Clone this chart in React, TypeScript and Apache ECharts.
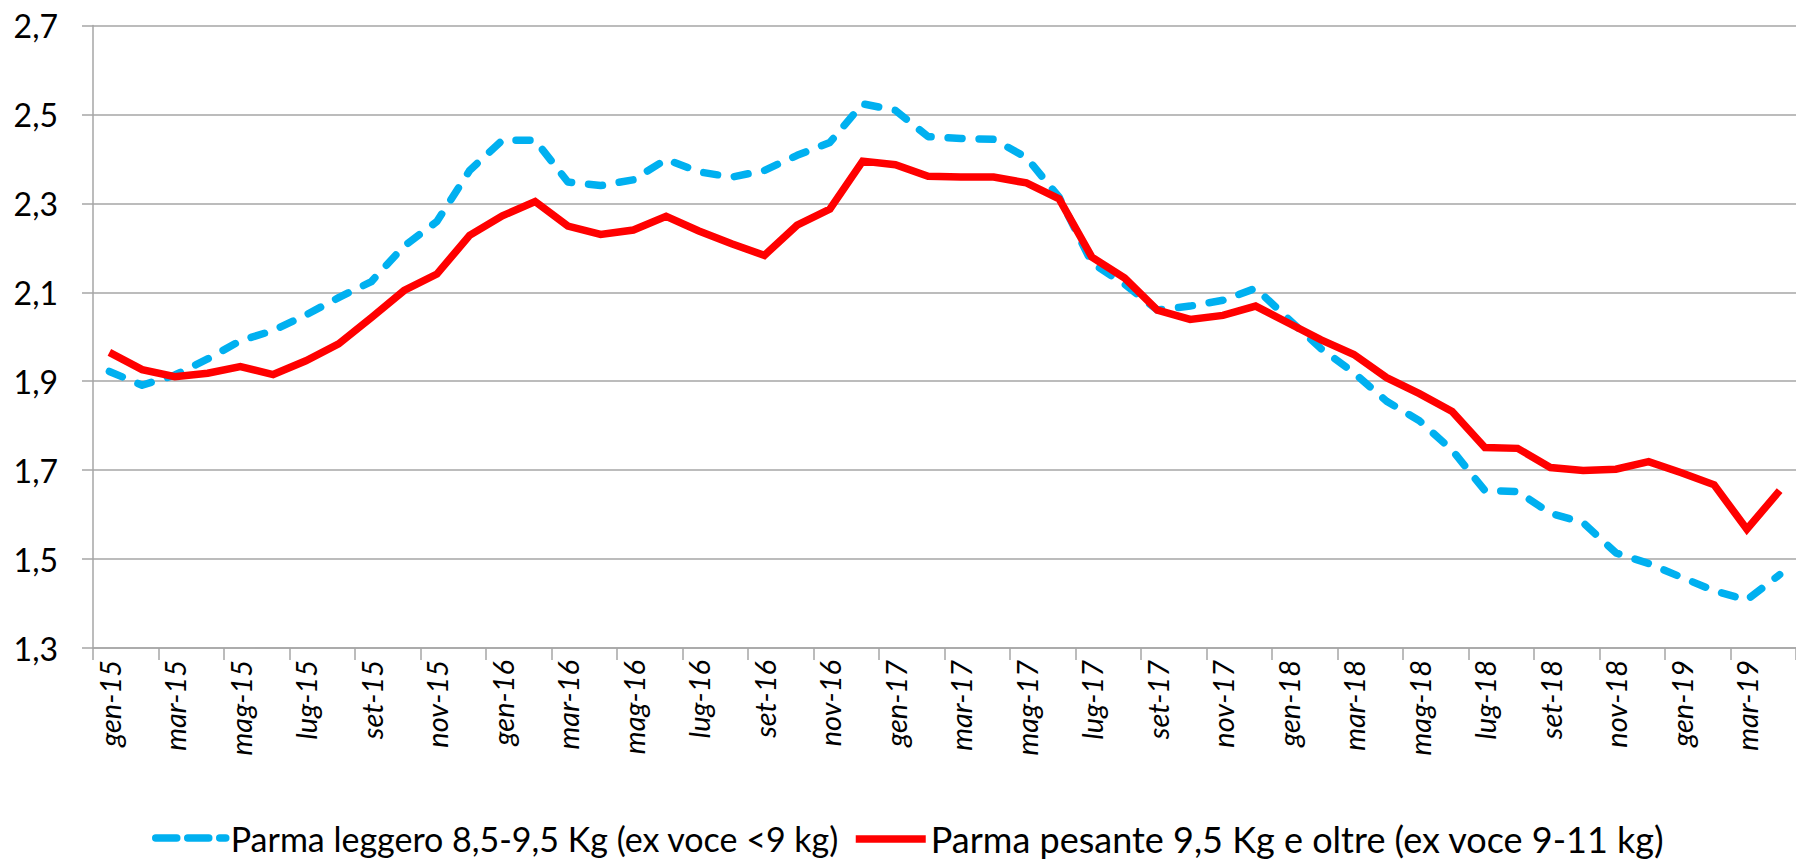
import React, { useEffect, useRef } from "react";
import * as echarts from "echarts";

const months = [
  "gen-15","feb-15","mar-15","apr-15","mag-15","giu-15","lug-15","ago-15","set-15","ott-15","nov-15","dic-15",
  "gen-16","feb-16","mar-16","apr-16","mag-16","giu-16","lug-16","ago-16","set-16","ott-16","nov-16","dic-16",
  "gen-17","feb-17","mar-17","apr-17","mag-17","giu-17","lug-17","ago-17","set-17","ott-17","nov-17","dic-17",
  "gen-18","feb-18","mar-18","apr-18","mag-18","giu-18","lug-18","ago-18","set-18","ott-18","nov-18","dic-18",
  "gen-19","feb-19","mar-19","apr-19",
];

const leggero = [
  1.922, 1.891, 1.914, 1.95, 1.991, 2.014, 2.049, 2.088, 2.124, 2.204, 2.259, 2.374,
  2.442, 2.442, 2.348, 2.34, 2.353, 2.399, 2.371, 2.359, 2.374, 2.408, 2.437, 2.524,
  2.509, 2.45, 2.446, 2.444, 2.403, 2.314, 2.166, 2.118, 2.06, 2.069, 2.082, 2.109,
  2.04, 1.973, 1.919, 1.855, 1.811, 1.745, 1.654, 1.652, 1.603, 1.582, 1.514, 1.49,
  1.459, 1.429, 1.408, 1.465,
];

const pesante = [
  1.965, 1.926, 1.91, 1.918, 1.933, 1.915, 1.946, 1.984, 2.043, 2.104, 2.141, 2.228,
  2.272, 2.304, 2.249, 2.23, 2.24, 2.271, 2.238, 2.209, 2.183, 2.251, 2.287, 2.395,
  2.387, 2.361, 2.359, 2.359, 2.346, 2.31, 2.179, 2.132, 2.06, 2.039, 2.048, 2.069,
  2.031, 1.993, 1.96, 1.908, 1.872, 1.832, 1.751, 1.749, 1.706, 1.699, 1.702, 1.719,
  1.694, 1.667, 1.567, 1.654,
];

const yTicks = [1.3, 1.5, 1.7, 1.9, 2.1, 2.3, 2.5, 2.7];

const nameLeggero = "Parma leggero 8,5-9,5 Kg (ex voce <9 kg)";
const namePesante = "Parma pesante 9,5 Kg e oltre (ex voce 9-11 kg)";

const FONT = "Lato, 'Noto Sans', sans-serif";
const GRAY = "#A6A6A6";
const BLUE = "#00B0F0";
const RED = "#FF0000";
const LW = 7.5;

export default function App() {
  const ref = useRef<HTMLDivElement>(null);

  useEffect(() => {
    if (!ref.current) return;
    const chart = echarts.init(ref.current, undefined, { renderer: "svg" });
    const fmt = (v: number) => v.toFixed(1).replace(".", ",");
    const legendBase = {
      top: 821,
      padding: 0,
      itemWidth: 70,
      itemHeight: 14,
    };
    chart.setOption({
      animation: false,
      backgroundColor: "#ffffff",
      grid: { left: 93, top: 25.5, width: 1707, height: 622.5, containLabel: false },
      xAxis: {
        type: "category",
        data: months,
        boundaryGap: true,
        axisLine: { show: true, lineStyle: { color: GRAY, width: 1.5 } },
        axisTick: { show: true, interval: 1, length: 12, lineStyle: { color: GRAY, width: 1.5 } },
        axisLabel: {
          interval: 1,
          rotate: 90,
          margin: 12,
          fontSize: 29,
          fontStyle: "italic",
          fontFamily: FONT,
          color: "#000",
        },
        splitLine: { show: false },
      },
      yAxis: {
        type: "value",
        min: 1.3,
        max: 2.7,
        interval: 0.2,
        axisLine: { show: true, lineStyle: { color: GRAY, width: 1.5 } },
        axisTick: { show: true, length: 11, customValues: yTicks, lineStyle: { color: GRAY, width: 1.5 } },
        axisLabel: {
          customValues: yTicks,
          formatter: fmt,
          margin: 35,
          fontSize: 32,
          fontFamily: FONT,
          color: "#000",
        },
        splitLine: { show: true, lineStyle: { color: GRAY, width: 1.5 } },
      },
      legend: [
        {
          ...legendBase,
          left: 152,
          textStyle: { fontSize: 34, fontFamily: FONT, color: "#000" },
          data: [
            {
              name: nameLeggero,
              itemStyle: { opacity: 0 },
              lineStyle: { color: BLUE, width: LW, type: [21, 11], cap: "round" },
            },
          ],
        },
        {
          ...legendBase,
          left: 852,
          textStyle: { fontSize: 36, fontFamily: FONT, color: "#000" },
          data: [
            {
              name: namePesante,
              itemStyle: { opacity: 0 },
              lineStyle: { color: RED, width: LW, cap: "butt" },
            },
          ],
        },
      ],
      series: [
        {
          name: nameLeggero,
          type: "line",
          data: leggero,
          symbol: "none",
          showSymbol: false,
          color: BLUE,
          lineStyle: { color: BLUE, width: LW, type: [14, 17], cap: "round", join: "round" },
          z: 2,
        },
        {
          name: namePesante,
          type: "line",
          data: pesante,
          symbol: "none",
          showSymbol: false,
          color: RED,
          lineStyle: { color: RED, width: LW, join: "miter" },
          z: 3,
        },
      ],
    });
    return () => chart.dispose();
  }, []);

  return (
    <div
      ref={ref}
      style={{ position: "fixed", left: 0, top: 0, width: "1796px", height: "861px", background: "#fff" }}
    />
  );
}
